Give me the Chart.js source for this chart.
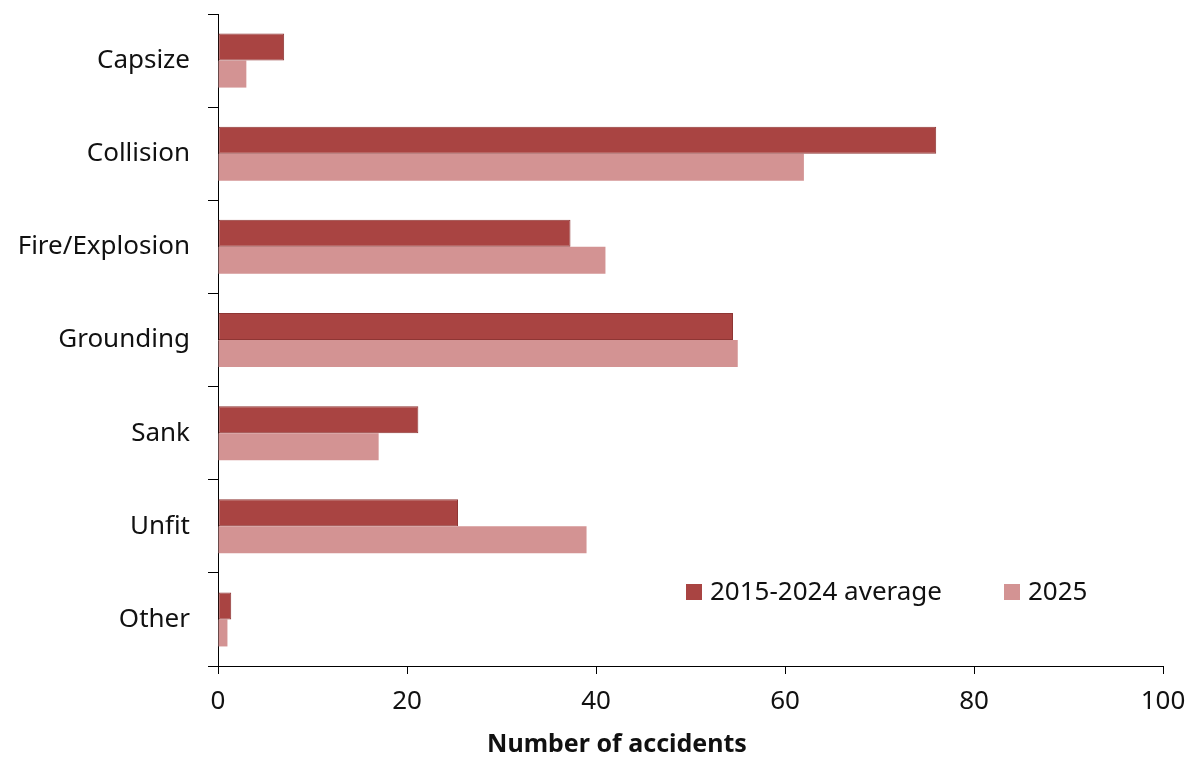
<!DOCTYPE html>
<html>
<head>
<meta charset="utf-8">
<script src="https://cdn.jsdelivr.net/npm/chart.js@4/dist/chart.umd.min.js"></script>
<style>
html,body{margin:0;padding:0;background:#fff;}
#wrap{width:1200px;height:764px;position:relative;}
</style>
</head>
<body>
<div id="wrap"><canvas id="c" width="1200" height="764"></canvas></div>
<script>
const categories = ["Capsize", "Collision", "Fire/Explosion", "Grounding", "Sank", "Unfit", "Other"];
const average2015_2024 = [7.0, 76.0, 37.3, 54.5, 21.2, 25.4, 1.4];
const values2025 = [3, 62, 41, 55, 17, 39, 1];
const seriesLabels = ["2015-2024 average", "2025"];
const xTicks = [0, 20, 40, 60, 80, 100];
const xTitle = "Number of accidents";

const FONT = "'Noto Sans', 'Open Sans', sans-serif";
const DARK = "#a94442";
const LIGHT = "#d39393";

const legendPlugin = {
  id: 'customLegend',
  afterDraw(chart) {
    const ctx = chart.ctx;
    ctx.save();
    ctx.font = "26px " + FONT;
    ctx.textBaseline = 'middle';
    const y = 592;
    const items = [{x: 686}, {x: 1004}];
    chart.data.datasets.forEach((ds, i) => {
      const it = items[i];
      ctx.fillStyle = ds.backgroundColor;
      ctx.fillRect(it.x, y - 8, 16, 16);
      ctx.fillStyle = '#111';
      ctx.fillText(ds.label, it.x + 24, y + 1);
    });
    // axis title
    ctx.font = "bold 25px " + FONT;
    ctx.textAlign = 'center';
    ctx.fillStyle = '#111';
    ctx.fillText(xTitle, 617, 745);
    ctx.restore();
  }
};

new Chart(document.getElementById('c'), {
  type: 'bar',
  data: {
    labels: categories,
    datasets: [
      {label: seriesLabels[0], data: average2015_2024, backgroundColor: DARK, borderColor: '#8e3634', borderWidth: 1, borderSkipped: false},
      {label: seriesLabels[1], data: values2025, backgroundColor: LIGHT, borderWidth: 0}
    ]
  },
  options: {
    indexAxis: 'y',
    responsive: false,
    animation: false,
    devicePixelRatio: 1,
    layout: {padding: {top: 14, right: 37, left: 0, bottom: 0}},
    datasets: {bar: {categoryPercentage: 0.58, barPercentage: 1.0}},
    plugins: {legend: {display: false}, tooltip: {enabled: false}},
    scales: {
      x: {
        min: 0, max: 100,
        afterBuildTicks(scale) { scale.ticks = xTicks.map(v => ({value: v})); },
        afterFit(scale) { scale.height = 98; scale.paddingLeft = 0; scale.paddingRight = 0; },
        grid: {drawOnChartArea: false, drawTicks: true, tickLength: 8, color: '#000', lineWidth: 1},
        border: {display: true, color: '#000', width: 1},
        ticks: {font: {family: FONT, size: 26}, color: '#111', padding: 12, maxRotation: 0},
        title: {display: false}
      },
      y: {
        afterFit(scale) { scale.width = 218; scale.paddingTop = 0; scale.paddingBottom = 0; },
        grid: {drawOnChartArea: false, drawTicks: true, tickLength: 10, color: '#000', lineWidth: 1, offset: true},
        border: {display: true, color: '#000', width: 1},
        ticks: {font: {family: FONT, size: 26}, color: '#111', padding: 18}
      }
    }
  },
  plugins: [legendPlugin]
});
</script>
</body>
</html>
